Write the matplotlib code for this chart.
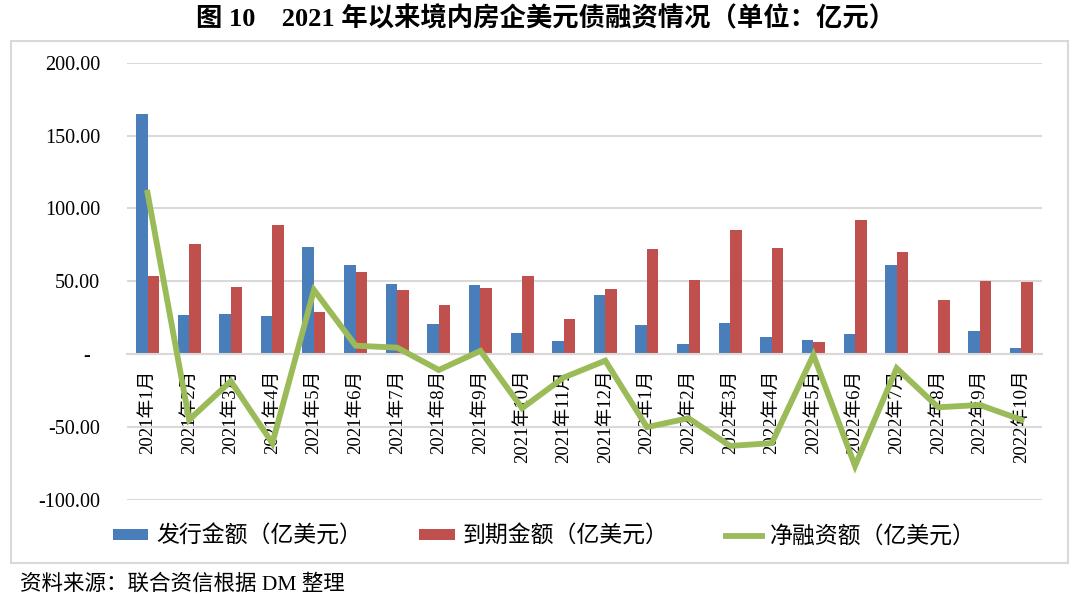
import matplotlib
matplotlib.use("Agg")
import matplotlib.pyplot as plt
import numpy as np
from matplotlib.patches import Rectangle

FAM = ['Liberation Serif', 'Noto Sans CJK SC', 'DejaVu Sans']
plt.rcParams['font.family'] = FAM

categories = ["2021年1月", "2021年2月", "2021年3月", "2021年4月", "2021年5月", "2021年6月",
              "2021年7月", "2021年8月", "2021年9月", "2021年10月", "2021年11月", "2021年12月",
              "2022年1月", "2022年2月", "2022年3月", "2022年4月", "2022年5月", "2022年6月",
              "2022年7月", "2022年8月", "2022年9月", "2022年10月"]
issuance = [164.6, 27.0, 27.6, 26.5, 73.4, 61.5, 48.2, 21.0, 47.3, 14.4, 8.9, 40.9,
            20.3, 7.1, 21.7, 11.9, 9.6, 13.7, 61.5, 0.0, 15.8, 4.3]
maturity = [53.5, 75.6, 46.2, 88.9, 29.0, 56.2, 44.3, 33.6, 45.5, 53.5, 24.2, 45.0,
            72.2, 51.0, 85.5, 72.7, 8.2, 92.1, 70.2, 37.4, 50.5, 49.6]
net = [110.8, -45.0, -18.5, -61.0, 44.1, 5.9, 4.5, -10.8, 2.3, -37.0, -16.0, -4.4,
       -50.0, -43.9, -62.9, -61.0, -0.5, -76.6, -9.6, -36.4, -34.8, -45.0]
yticks = [-100, -50, 0, 50, 100, 150, 200]
ytick_labels = ["-100.00", "-50.00", "-  ", "50.00", "100.00", "150.00", "200.00"]
series_names = ["发行金额（亿美元）", "到期金额（亿美元）", "净融资额（亿美元）"]
title = "图 10　2021 年以来境内房企美元债融资情况（单位：亿元）"
source = "资料来源：联合资信根据 DM 整理"

BLUE = "#4a7ebb"
RED = "#c0504d"
GREEN = "#9bbb59"
GRID = "#d9d9d9"

fig = plt.figure(figsize=(10.8, 6.03), dpi=100)
ax = fig.add_axes([126.7 / 1080, 1 - 500 / 603, (1042.3 - 126.7) / 1080, (500 - 62.7) / 603])

x = np.arange(len(categories))
w = 0.276
b1 = ax.bar(x - w / 2, issuance, width=w, color=BLUE, zorder=2, label=series_names[0])
b2 = ax.bar(x + w / 2, maturity, width=w, color=RED, zorder=2, label=series_names[1])
l1, = ax.plot(x, net, color=GREEN, lw=4.2, zorder=4, solid_joinstyle='miter',
              label=series_names[2])

ax.set_xlim(-0.5, len(categories) - 0.5)
ax.set_ylim(-100, 200)
ax.set_axisbelow(True)
ax.set_yticks(yticks)
ax.set_yticklabels(ytick_labels)
ax.yaxis.grid(True, color=GRID, lw=1.5)
for s in ['top', 'right', 'left']:
    ax.spines[s].set_visible(False)
ax.spines['bottom'].set_position(('data', 0))
ax.spines['bottom'].set_color(GRID)
ax.spines['bottom'].set_linewidth(1.5)
ax.set_xticks(x)
ax.set_xticklabels(categories, rotation=90, fontsize=13.5, va='top', ha='center')
ax.tick_params(axis='x', length=0, pad=11)
ax.tick_params(axis='y', length=0, pad=19, labelsize=14.5)
for lab in ax.get_xticklabels():
    lab.set_zorder(1)

fig.legend(handles=[b1, b2, l1], labels=series_names, loc='center',
           bbox_to_anchor=(544 / 1080, 1 - 537 / 603), ncol=3, frameon=False,
           fontsize=16.5, handlelength=1.55, handleheight=0.35, handletextpad=0.35,
           columnspacing=2.5)

fig.patches.append(Rectangle((11 / 1080, 1 - 563 / 603), (1068 - 11) / 1080, (563 - 41) / 603,
                             transform=fig.transFigure, fill=False, edgecolor=GRID, lw=1.5))

fig.text(546 / 1080, 1 - 19 / 603, title, ha='center', va='center', fontsize=19,
         fontweight='bold')
fig.text(20 / 1080, 1 - 585 / 603, source, ha='left', va='center', fontsize=15.5)

fig.savefig("out.png", dpi=100)
